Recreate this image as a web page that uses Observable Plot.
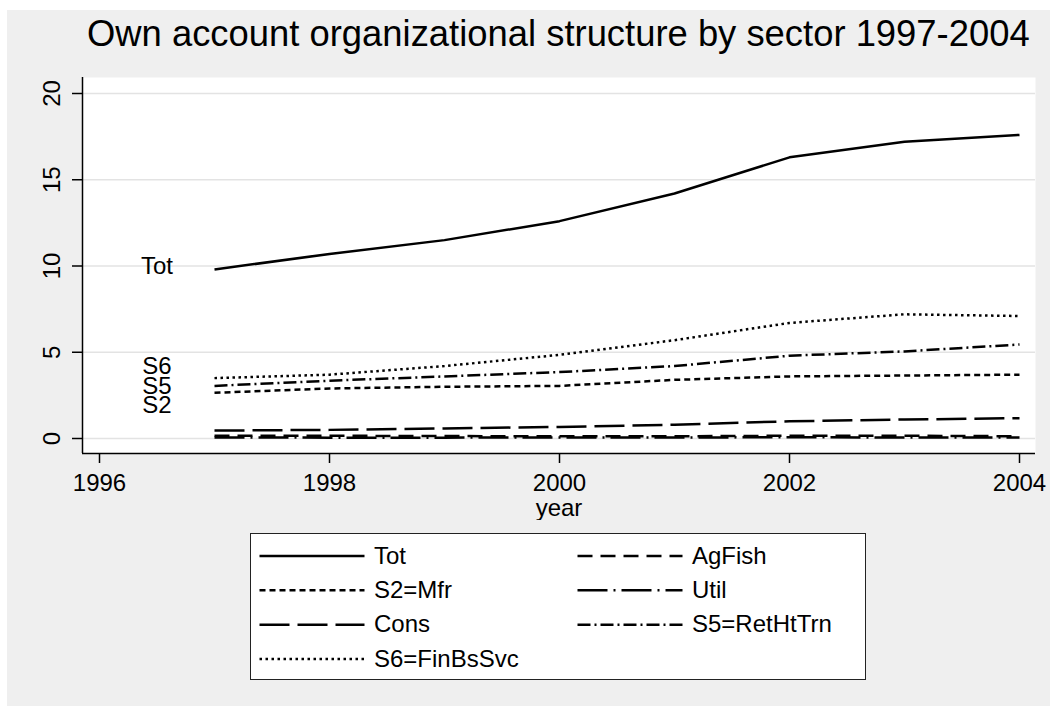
<!DOCTYPE html>
<html>
<head>
<meta charset="utf-8">
<script src="https://cdn.jsdelivr.net/npm/d3@7"></script>
<script src="https://cdn.jsdelivr.net/npm/@observablehq/plot@0.6"></script>
<style>
  html, body { margin: 0; padding: 0; background: #ffffff; }
  #wrap { position: absolute; left: 7px; top: 10px; width: 1043px; height: 696px; background: #efefef;
          font-family: "Liberation Sans", Arial, sans-serif; overflow: hidden; }
  #title { position: absolute; left: 80px; width: 941px; top: 6px; line-height: 36px; font-size: 36.4px;
           text-align: center; white-space: nowrap; color: #000; }
  #chart { position: absolute; left: 0; top: 0; }
  #legend { position: absolute; left: 243px; top: 523px; width: 616px; height: 147px; box-sizing: border-box;
            border: 1.5px solid #222; background: #fff; }
</style>
</head>
<body>
<div id="wrap">
  <div id="chart"></div>
  <div id="title">Own account organizational structure by sector 1997-2004</div>
  <div id="legend"></div>
</div>
<script>
// ---- data ----
const years = [1997, 1998, 1999, 2000, 2001, 2002, 2003, 2004];
const tot   = [9.8, 10.7, 11.5, 12.6, 14.2, 16.3, 17.2, 17.6];
const agFish = [0.16, 0.16, 0.14, 0.13, 0.13, 0.16, 0.16, 0.13];
const s2Mfr = [2.65, 2.9, 3.0, 3.05, 3.4, 3.6, 3.65, 3.7];
const util  = [0.06, 0.05, 0.05, 0.06, 0.06, 0.07, 0.06, 0.06];
const cons  = [0.46, 0.5, 0.58, 0.67, 0.8, 1.0, 1.1, 1.18];
const s5Ret = [3.05, 3.35, 3.6, 3.85, 4.2, 4.8, 5.05, 5.45];
const s6Fin = [3.5, 3.7, 4.2, 4.85, 5.7, 6.7, 7.2, 7.1];

const seriesNames = ["Tot", "AgFish", "S2=Mfr", "Util", "Cons", "S5=RetHtTrn", "S6=FinBsSvc"];
const seriesValues = [tot, agFish, s2Mfr, util, cons, s5Ret, s6Fin];

const xTicks = [1996, 1998, 2000, 2002, 2004];
const yTicks = [0, 5, 10, 15, 20];

const labelText = ["Tot", "S6", "S5", "S2"];
const labelYear = [1996.5, 1996.5, 1996.5, 1996.5];
const labelValue = [10, 4.2, 3.0, 1.9];

// ---- styles (not data) ----
const dashStyle = {
  "Tot": null,
  "AgFish": "15,8",
  "S2=Mfr": "6,4",
  "Util": "30,6,2,6",
  "Cons": "30,8",
  "S5=RetHtTrn": "13,4,2,4",
  "S6=FinBsSvc": "2.5,3.5"
};
const FONT = '"Liberation Sans", Arial, sans-serif';

const table = seriesNames.flatMap((name, s) =>
  years.map((year, i) => ({series: name, year, value: seriesValues[s][i]})));
const labels = labelText.map((t, i) => ({t, x: labelYear[i], y: labelValue[i]}));

const lineMarks = seriesNames.map(name =>
  Plot.line(table.filter(d => d.series === name), {
    x: "year", y: "value", stroke: "black", strokeWidth: 2.5,
    strokeDasharray: dashStyle[name] || undefined, strokeLinecap: "butt", strokeLinejoin: "round"
  }));

const chart = Plot.plot({
  width: 1043, height: 510,
  marginTop: 67, marginBottom: 67, marginLeft: 75, marginRight: 15,
  x: {domain: [xTicks[0], xTicks[xTicks.length - 1]], insetLeft: 17, insetRight: 16},
  y: {domain: [yTicks[0], yTicks[yTicks.length - 1]], insetTop: 16, insetBottom: 15},
  style: {background: "transparent", fontFamily: FONT, fontSize: "24px", color: "black"},
  marks: [
    Plot.frame({fill: "white", stroke: null}),
    Plot.gridY(yTicks, {stroke: "#e3e3e3", strokeOpacity: 1, strokeWidth: 1.5}),
    ...lineMarks,
    Plot.text(labels, {x: "x", y: "y", text: "t", fontSize: 24, fill: "black", textAnchor: "middle"}),
    Plot.ruleX([xTicks[0]], {dx: -17, stroke: "black", strokeWidth: 1.5}),
    Plot.ruleY([yTicks[0]], {dy: 15, stroke: "black", strokeWidth: 1.5}),
    Plot.axisY(yTicks, {anchor: "left", tickSize: 10, tickPadding: 13, tickRotate: -90,
      tickFormat: d => String(d), label: null, fontSize: 24, strokeWidth: 1.5}),
    Plot.axisX(xTicks, {anchor: "bottom", tickSize: 10, tickPadding: 10,
      tickFormat: d => String(d), label: "year", labelAnchor: "center", labelArrow: "none",
      labelOffset: 62, fontSize: 24, strokeWidth: 1.5})
  ]
});
document.getElementById("chart").appendChild(chart);

// ---- legend ----
const items = seriesNames.map((name, i) => ({name, col: i % 2, row: Math.floor(i / 2)}));
const legend = Plot.plot({
  width: 613, height: 144,
  marginTop: 21.5, marginBottom: 19.5, marginLeft: 8.5, marginRight: 286.5,
  x: {domain: [0, 1], axis: null},
  y: {domain: [0, 3], reverse: true, axis: null},
  style: {background: "transparent", fontFamily: FONT, fontSize: "24px", color: "black"},
  marks: [
    ...items.map(it => Plot.ruleY([it], {y: "row", x1: "col", x2: "col", insetRight: -105,
      stroke: "black", strokeWidth: 2.5, strokeDasharray: dashStyle[it.name] || undefined})),
    Plot.text(items, {x: "col", y: "row", text: "name", dx: 114, textAnchor: "start", fontSize: 24, fill: "black"})
  ]
});
document.getElementById("legend").appendChild(legend);
</script>
</body>
</html>
